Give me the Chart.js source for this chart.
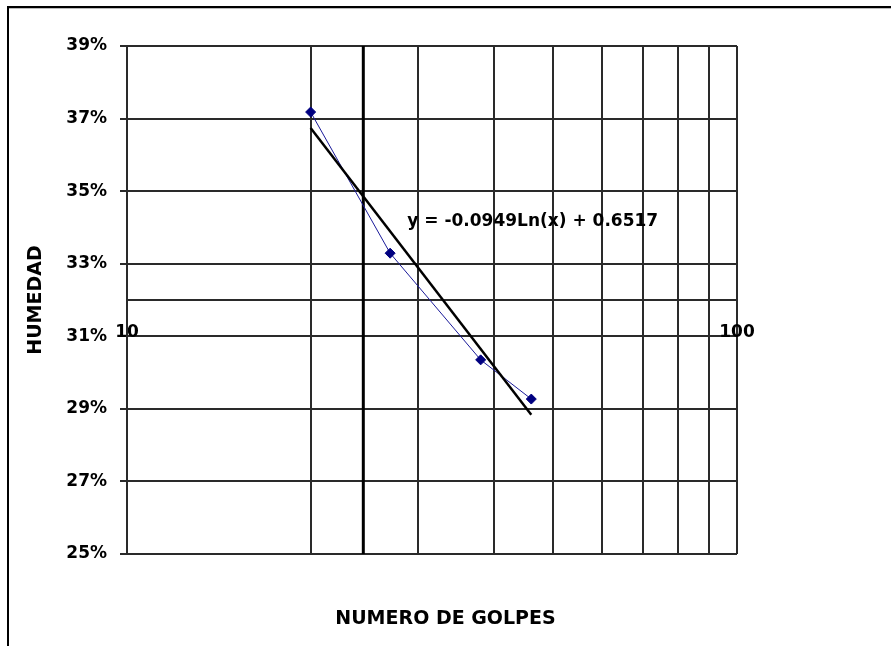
<!DOCTYPE html>
<html>
<head>
<meta charset="utf-8">
<script src="https://cdn.jsdelivr.net/npm/chart.js@4"></script>
<style>
    html, body { margin: 0; padding: 0; background: #fff; }
</style>
</head>
<body>
<canvas id="chart" width="891" height="646"></canvas>
<script>
(() => {
    /* DATA */

    // numero de golpes vs humedad
    var golpes = [20, 27, 38, 46];
    var humedad = [0.3718, 0.3329, 0.3035, 0.2927];

    // log trend line end points
    var trendGolpes = [20, 46];
    var trendHumedad = [0.3674, 0.2884];

    // thick vertical line near 25 golpes
    var markGolpes = [24.4, 24.4];
    var markHumedad = [0.25, 0.39];

    var xGrid = [10, 20, 30, 40, 50, 60, 70, 80, 90, 100];
    var xLabels = [10, 100];
    var equation = 'y = -0.0949Ln(x) + 0.6517';

    /* CHART */

    var FONT = 'DejaVu Sans';
    var GRID = '#2a2a2a';

    var toPoints = (xs, ys) => xs.map((x, i) => ({ x: x, y: ys[i] }));

    var framePlugin = {
        id: 'frame',
        beforeDraw: (chart) => {
            var ctx = chart.ctx;
            ctx.save();
            ctx.fillStyle = '#fff';
            ctx.fillRect(0, 0, chart.width, chart.height);
            ctx.strokeStyle = '#000';
            ctx.lineWidth = 2;
            ctx.beginPath();
            ctx.moveTo(8, chart.height);
            ctx.lineTo(8, 7);
            ctx.lineTo(chart.width, 7);
            ctx.stroke();
            ctx.strokeStyle = '#bbb';
            ctx.lineWidth = 1;
            ctx.beginPath();
            ctx.moveTo(9, 8.5);
            ctx.lineTo(chart.width, 8.5);
            ctx.stroke();
            ctx.restore();
        }
    };

    var equationPlugin = {
        id: 'equation',
        afterDatasetsDraw: (chart) => {
            var ctx = chart.ctx;
            var x = chart.scales.x.getPixelForValue(28.8);
            var y = chart.scales.y.getPixelForValue(0.3416);
            ctx.save();
            ctx.font = 'bold 17px "' + FONT + '"';
            ctx.fillStyle = '#000';
            ctx.textAlign = 'left';
            ctx.textBaseline = 'middle';
            ctx.fillText(equation, x, y);
            ctx.restore();
        }
    };

    var config = {
        type: 'scatter',
        data: {
            datasets: [
                {
                    label: 'Linea',
                    data: toPoints(markGolpes, markHumedad),
                    showLine: true,
                    borderColor: '#000',
                    borderWidth: 3,
                    pointRadius: 0,
                    order: 3
                },
                {
                    label: 'Humedad',
                    data: toPoints(golpes, humedad),
                    showLine: true,
                    borderColor: '#1a1a9a',
                    borderWidth: 1,
                    backgroundColor: '#000080',
                    pointBackgroundColor: '#000080',
                    pointBorderColor: '#000080',
                    pointStyle: 'rectRot',
                    pointRadius: 5,
                    pointBorderWidth: 1,
                    order: 2
                },
                {
                    label: 'Tendencia',
                    data: toPoints(trendGolpes, trendHumedad),
                    showLine: true,
                    borderColor: '#000',
                    borderWidth: 2.5,
                    pointRadius: 0,
                    order: 1
                }
            ]
        },
        options: {
            responsive: false,
            devicePixelRatio: 1,
            animation: false,
            layout: { padding: { left: 0, right: 0, top: 46, bottom: 0 } },
            scales: {
                x: {
                    type: 'logarithmic',
                    min: 10,
                    max: 100,
                    position: { y: 0.32 },
                    afterBuildTicks: (scale) => { scale.ticks = xGrid.map(v => ({ value: v })); },
                    grid: { color: GRID, lineWidth: 2, drawTicks: false },
                    border: { display: true, color: GRID, width: 2 },
                    ticks: {
                        autoSkip: false,
                        maxRotation: 0,
                        padding: 22,
                        color: '#000',
                        font: { family: FONT, size: 17, weight: 'bold' },
                        callback: (value) => xLabels.includes(Math.round(value)) ? String(Math.round(value)) : ''
                    }
                },
                y: {
                    type: 'linear',
                    position: 'left',
                    min: 0.25,
                    max: 0.39,
                    afterFit: (scale) => { scale.width = 127; },
                    grid: { color: GRID, lineWidth: 2, tickLength: 7 },
                    border: { display: true, color: GRID, width: 2 },
                    ticks: {
                        stepSize: 0.02,
                        padding: 13,
                        color: '#000',
                        font: { family: FONT, size: 17, weight: 'bold' },
                        callback: (value) => Math.round(value * 100) + '%'
                    },
                    title: {
                        display: true,
                        text: 'HUMEDAD',
                        color: '#000',
                        font: { family: FONT, size: 19, weight: 'bold' },
                        padding: { top: 25, bottom: 0 }
                    }
                },
                yRight: {
                    type: 'linear',
                    position: 'right',
                    afterFit: (scale) => { scale.width = 154; },
                    grid: { display: false },
                    border: { display: false },
                    ticks: { display: false }
                }
            },
            plugins: {
                legend: { display: false },
                tooltip: { enabled: false },
                title: {
                    display: true,
                    position: 'bottom',
                    text: 'NUMERO DE GOLPES',
                    color: '#000',
                    font: { family: FONT, size: 19, weight: 'bold' },
                    padding: { top: 53.6, bottom: 15.6 }
                }
            }
        },
        plugins: [framePlugin, equationPlugin]
    };

    new Chart(document.getElementById('chart'), config);
})();
</script>
</body>
</html>
